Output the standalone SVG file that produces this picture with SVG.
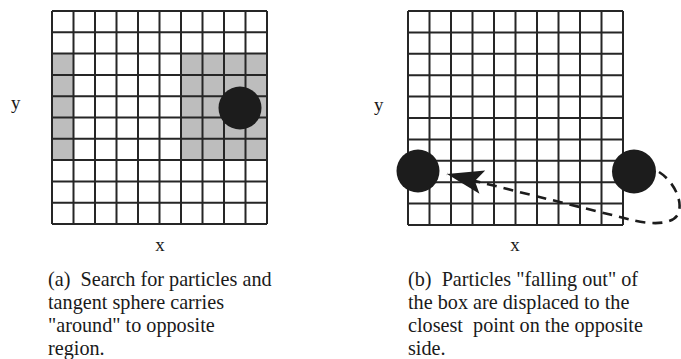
<svg xmlns="http://www.w3.org/2000/svg" width="681" height="359" viewBox="0 0 681 359">
<style>
.bg{fill:#ffffff}
.grid{fill:none;stroke:#262626;stroke-width:2}
.shade{fill:#bdbdbd}
.ball{fill:#1c1c1c}
.lbl{font-family:"Liberation Serif","Times New Roman",serif;font-size:19px;fill:#1a1a1a}
.cap{font-family:"Liberation Serif","Times New Roman",serif;font-size:20.2px;fill:#1a1a1a;white-space:pre}
.dash{fill:none;stroke:#1c1c1c;stroke-width:2.6;stroke-dasharray:10 7}
</style>
<defs>
<marker id="ah" markerUnits="userSpaceOnUse" markerWidth="40" markerHeight="30" viewBox="-30 -12 32 24" refX="0" refY="0" orient="auto">
<path d="M0,0 L-29,-9 L-23,0 L-29,10 Z" fill="#1c1c1c"/>
</marker>
</defs>
<rect class="bg" x="0" y="0" width="681" height="359"/>

<g id="panel-a">
<rect class="shade" x="52" y="53.6" width="21.5" height="106.5"/>
<rect class="shade" x="181" y="53.6" width="86" height="106.5"/>
<path class="grid" d="M52,11V224M73.5,11V224M95,11V224M116.5,11V224M138,11V224M159.5,11V224M181,11V224M202.5,11V224M224,11V224M245.5,11V224M267,11V224
M52,11H267M52,32.3H267M52,53.6H267M52,74.9H267M52,96.2H267M52,117.5H267M52,138.8H267M52,160.1H267M52,181.4H267M52,202.7H267M52,224H267"/>
<circle class="ball" cx="240" cy="108" r="21.5"/>
<text class="lbl" x="11" y="109">y</text>
<text class="lbl" x="160" y="251" text-anchor="middle">x</text>
<text class="cap" x="48" y="286">(a)  Search for particles and</text>
<text class="cap" x="48" y="309">tangent sphere carries</text>
<text class="cap" x="48" y="332">"around" to opposite</text>
<text class="cap" x="48" y="355">region.</text>
</g>

<g id="panel-b">
<path class="grid" d="M408,11V225M429.5,11V225M451,11V225M472.5,11V225M494,11V225M515.5,11V225M537,11V225M558.5,11V225M580,11V225M601.5,11V225M623,11V225
M408,11H623M408,32.4H623M408,53.8H623M408,75.2H623M408,96.6H623M408,118H623M408,139.4H623M408,160.8H623M408,182.2H623M408,203.6H623M408,225H623"/>
<text class="lbl" x="374" y="111">y</text>
<text class="lbl" x="515" y="251" text-anchor="middle">x</text>
<text class="cap" x="408" y="286">(b)  Particles "falling out" of</text>
<text class="cap" x="408" y="309">the box are displaced to the</text>
<text class="cap" x="408" y="332">closest  point on the opposite</text>
<text class="cap" x="408" y="355">side.</text>
</g>

<g id="particle-left">
<circle class="ball" cx="418" cy="171" r="21.5"/>
</g>
<g id="particle-right">
<circle class="ball" cx="634" cy="171.5" r="22"/>
</g>

<g id="connectors">
<path class="dash" d="M659,172 C672,180 684,200 678,214 C672,226 648,224 632,220 L447,174" marker-end="url(#ah)"/>
</g>
</svg>
